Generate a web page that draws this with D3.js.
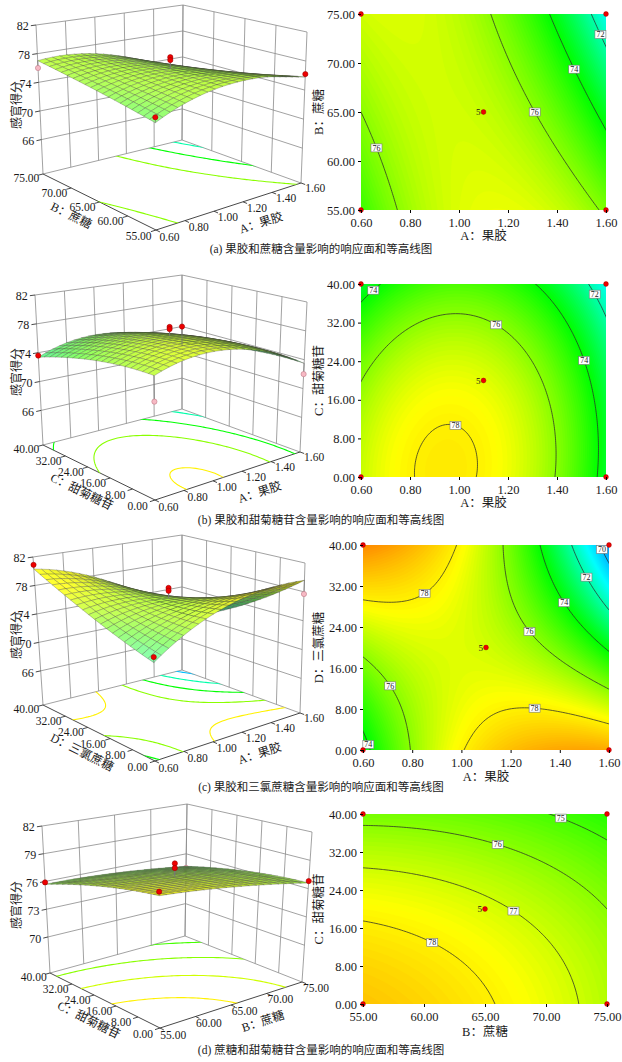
<!DOCTYPE html>
<html>
<head>
<meta charset="utf-8">
<script src="https://cdn.jsdelivr.net/npm/d3@7"></script>
<style>
body { margin: 0; background: #fff; }
text { font-family: "Liberation Serif", "Noto Sans CJK SC", serif; fill: #1a1a1a; }
</style>
</head>
<body>
<svg id="chart" width="622" height="1062"></svg>
<script>
// ---- factors ----
var factorName = ["A：果胶", "B：蔗糖", "C：甜菊糖苷", "D：三氯蔗糖"];
var factorLow = [0.6, 55, 0, 0];
var factorHigh = [1.6, 75, 40, 40];
var factorTicks = [
	[0.6, 0.8, 1.0, 1.2, 1.4, 1.6],
	[55, 60, 65, 70, 75],
	[0, 8, 16, 24, 32, 40],
	[0, 8, 16, 24, 32, 40]
];
var responseName = "感官得分";

// ---- panels ----
var panelFactorX = [0, 0, 0, 1];
var panelFactorY = [1, 2, 3, 2];
var panelCaption = [
	"(a) 果胶和蔗糖含量影响的响应面和等高线图",
	"(b) 果胶和甜菊糖苷含量影响的响应面和等高线图",
	"(c) 果胶和三氯蔗糖含量影响的响应面和等高线图",
	"(d) 蔗糖和甜菊糖苷含量影响的响应面和等高线图"
];

// fitted quadratic in coded units: b0, bx, by, bxy, bxx, byy
var coefA = [76.87, -1.21, -0.60, -1.71, -2.08, -0.09];
var coefB = [77.29, -1.41, -1.47, 0.28, -2.72, -0.85];
var coefC = [77.05, -1.25, -0.90, -4.25, -2.00, 0.65];
var coefD = [77.20, -0.90, -1.35, 0.30, -0.30, -0.45];
var panelCoef = [coefA, coefB, coefC, coefD];

var levelsA = [72, 74, 76];
var levelsB = [72, 74, 76, 78];
var levelsC = [70, 72, 74, 76, 78];
var levelsD = [75, 76, 77, 78];
var panelLevels = [levelsA, levelsB, levelsC, levelsD];

// contour labels: level, x factor value, y factor value
var labelsA = [[72, 1.547, 72.65], [74, 1.465, 69.4], [76, 1.347, 65.5], [76, 0.661, 61.3]];
var labelsB = [[74, 0.645, 38.9], [72, 1.58, 38.9], [76, 1.163, 32.7], [74, 1.53, 24.7], [78, 1.0, 12.0]];
var labelsC = [[70, 1.547, 38.4], [72, 1.498, 33.2], [74, 1.417, 28.7], [76, 1.295, 23.8],
	[78, 0.852, 30.6], [76, 0.730, 12.9], [74, 0.637, 4.7], [78, 1.295, 9.6]];
var labelsD = [[75, 70.0, 38.7], [76, 66.0, 33.9], [77, 68.0, 22.1], [78, 61.0, 14.3]];
var panelLabels = [labelsA, labelsB, labelsC, labelsD];

var zTicksABC = [66, 70, 74, 78, 82];
var zTicksD = [70, 73, 76, 79, 82];
var panelZTicks = [zTicksABC, zTicksABC, zTicksABC, zTicksD];
var panelZFloor = [61.2, 61.2, 61.2, 66.1];

// design runs: corners (lo/lo, lo/hi, hi/lo, hi/hi) and centre replicates
var cornerUV = [[0, 0], [0, 1], [1, 0], [1, 1]];
var cornerRunsA = [75.5, 76.0, 76.2, 70.5];
var cornerRunsB = [73.6, 73.6, 72.0, 74.0];
var cornerRunsC = [74.3, 80.9, 77.7, 69.0];
var cornerRunsD = [79.4, 75.9, 76.8, 74.3];
var panelCornerRuns = [cornerRunsA, cornerRunsB, cornerRunsC, cornerRunsD];
var centerRunsA = [78.5, 78.1];
var centerRunsB = [78.5, 78.2];
var centerRunsC = [78.5, 78.1];
var centerRunsD = [78.6, 78.1];
var panelCenterRuns = [centerRunsA, centerRunsB, centerRunsC, centerRunsD];
var centerCount = 5;

// colour ramps: flat contour map and shaded 3D surface
var colorDomain = [68, 71, 74, 77.7, 80.5, 83];
var colorRange = ["#0040ff", "#00ffff", "#00ff00", "#ffff00", "#ff8000", "#ff0000"];
var surfaceDomain = [69, 73, 75.5, 77.3, 78.8];
var surfaceRange = ["#40d8e8", "#60f0a8", "#80f060", "#b4f040", "#e4e82a"];

// ---- layout ----
// 3D box corners: p000, p100, p010, p110, p001, p101, p011, p111 (u, v, w)
var boxCorners = [
	[[156,230],[301,183],[43,174],[182,140],[155,66],[307,32],[36,25],[183,5]],
	[[155,500],[300,452],[43,445],[182,409],[154,335],[307,302],[35,295],[182,275]],
	[[155,761],[300,713],[43,705],[182,670],[153,596],[305,563],[33,557],[182,535]],
	[[160,1028],[302,982],[50,973],[185,936],[159,865],[312,832],[42,826],[187,804]]
];
var plotRect = [
	{x0: 361, x1: 606, y0: 14, y1: 210},
	{x0: 361, x1: 606, y0: 284, y1: 477},
	{x0: 363, x1: 609, y0: 545, y1: 750},
	{x0: 363, x1: 607, y0: 814, y1: 1004}
];
var zTitleY = [105, 372, 635, 905];
var xTitleY = [236, 503, 777, 1032];
var captionY = [249, 520, 787, 1050];

var svg = d3.select("#chart");
var defs = svg.append("defs");
var color = d3.scaleLinear().domain(colorDomain).range(colorRange).clamp(true);
var surfaceColor = d3.scaleLinear().domain(surfaceDomain).range(surfaceRange).clamp(true);
var fmt2 = d3.format(".2f");
var light = [-1, -1, 1.2];
var lightLen = Math.hypot(light[0], light[1], light[2]);

function lerp(a, b, t) { return [a[0] + (b[0] - a[0]) * t, a[1] + (b[1] - a[1]) * t]; }

function sampleGrid(model, n, pad) {
	var step = (1 + 2 * pad) / (n - 1), vals = new Array(n * n);
	for (var j = 0; j < n; j++)
		for (var i = 0; i < n; i++)
			vals[j * n + i] = model(-pad + i * step, -pad + j * step);
	return {
		n: n, vals: vals,
		toUV: function(pt) { return [-pad + (pt[0] - 0.5) * step, -pad + (pt[1] - 0.5) * step]; }
	};
}

function ringsPath(geo, toXY) {
	return geo.coordinates.map(function(poly) {
		return poly.map(function(ring) {
			return "M" + ring.map(function(pt) { return toXY(pt).join(","); }).join("L") + "Z";
		}).join("");
	}).join("");
}

function shade(base, f) {
	var c = d3.rgb(base);
	return d3.rgb(Math.min(255, c.r * f), Math.min(255, c.g * f), Math.min(255, c.b * f)).formatHex();
}

for (var k = 0; k < 4; k++) drawPanel(k);

function drawPanel(k) {
	var fx = panelFactorX[k], fy = panelFactorY[k], coef = panelCoef[k];
	var ux = d3.scaleLinear().domain([factorLow[fx], factorHigh[fx]]).range([0, 1]);
	var vy = d3.scaleLinear().domain([factorLow[fy], factorHigh[fy]]).range([0, 1]);
	var zt = panelZTicks[k];
	var wz = d3.scaleLinear().domain([panelZFloor[k], d3.max(zt)]).range([0, 1]);
	var model = function(u, v) {
		var x = 2 * u - 1, y = 2 * v - 1;
		return coef[0] + coef[1] * x + coef[2] * y + coef[3] * x * y + coef[4] * x * x + coef[5] * y * y;
	};
	var c = boxCorners[k];
	var P = function(u, v, w) {
		var bot = lerp(lerp(c[0], c[1], u), lerp(c[2], c[3], u), v);
		var top = lerp(lerp(c[4], c[5], u), lerp(c[6], c[7], u), v);
		return lerp(bot, top, w);
	};

	// ===== 3D response surface =====
	var g3 = svg.append("g").attr("class", "surface3d");

	// back walls
	var wallLines = [];
	zt.forEach(function(z) {
		var w = wz(z);
		wallLines.push([P(0, 1, w), P(1, 1, w)], [P(1, 1, w), P(1, 0, w)]);
	});
	factorTicks[fx].forEach(function(t) { var u = ux(t); wallLines.push([P(u, 1, 0), P(u, 1, 1)]); });
	factorTicks[fy].forEach(function(t) { var v = vy(t); wallLines.push([P(1, v, 0), P(1, v, 1)]); });
	wallLines.push([P(0, 1, 0), P(1, 1, 0)], [P(1, 1, 0), P(1, 0, 0)]);
	g3.append("g").selectAll("line").data(wallLines).join("line")
		.attr("x1", function(d) { return d[0][0]; }).attr("y1", function(d) { return d[0][1]; })
		.attr("x2", function(d) { return d[1][0]; }).attr("y2", function(d) { return d[1][1]; })
		.attr("stroke", "#8a8a8a").attr("stroke-width", 0.8);

	// front floor edges with ticks
	var axisLines = [[P(0, 0, 0), P(0, 1, 0)], [P(0, 0, 0), P(1, 0, 0)]];
	factorTicks[fy].forEach(function(t) { var v = vy(t); axisLines.push([P(0, v, 0), P(-0.035, v, 0)]); });
	factorTicks[fx].forEach(function(t) { var u = ux(t); axisLines.push([P(u, 0, 0), P(u, -0.035, 0)]); });
	zt.forEach(function(z) { var w = wz(z); axisLines.push([P(0, 1, w), P(-0.035, 1, w)]); });
	g3.append("g").selectAll("line").data(axisLines).join("line")
		.attr("x1", function(d) { return d[0][0]; }).attr("y1", function(d) { return d[0][1]; })
		.attr("x2", function(d) { return d[1][0]; }).attr("y2", function(d) { return d[1][1]; })
		.attr("stroke", "#333").attr("stroke-width", 0.9);

	// tick labels
	g3.append("g").selectAll("text").data(factorTicks[fy]).join("text")
		.attr("transform", function(t) { var p = P(-0.12, vy(t), 0); return "translate(" + p + ")"; })
		.attr("text-anchor", "middle").attr("dy", "0.35em").attr("font-size", 11.5)
		.text(fmt2);
	g3.append("g").selectAll("text").data(factorTicks[fx]).join("text")
		.attr("transform", function(t) { var p = P(ux(t), -0.12, 0); return "translate(" + p + ")"; })
		.attr("text-anchor", "middle").attr("dy", "0.35em").attr("font-size", 11.5)
		.text(fmt2);
	g3.append("g").selectAll("text").data(zt).join("text")
		.attr("transform", function(z) { var p = P(-0.05, 1, wz(z)); return "translate(" + p + ")"; })
		.attr("text-anchor", "end").attr("dy", "0.35em").attr("font-size", 12)
		.text(function(z) { return z; });

	// axis titles
	var eV = [P(0, 0, 0)[0] - P(0, 1, 0)[0], P(0, 0, 0)[1] - P(0, 1, 0)[1]];
	var eU = [P(1, 0, 0)[0] - P(0, 0, 0)[0], P(1, 0, 0)[1] - P(0, 0, 0)[1]];
	var aV = Math.atan2(eV[1], eV[0]) * 180 / Math.PI, aU = Math.atan2(eU[1], eU[0]) * 180 / Math.PI;
	var tV = P(-0.25, 0.61, 0), tU = P(0.34, -0.3, 0);
	g3.append("text").attr("transform", "translate(" + tV + ") rotate(" + aV + ")")
		.attr("dy", "0.35em").attr("font-size", 12).text(factorName[fy]);
	g3.append("text").attr("transform", "translate(" + tU + ") rotate(" + aU + ")")
		.attr("dy", "0.35em").attr("font-size", 12).text(factorName[fx]);
	g3.append("text").attr("transform", "translate(17," + zTitleY[k] + ") rotate(-90)")
		.attr("text-anchor", "middle").attr("dy", "0.35em").attr("font-size", 12)
		.attr("fill", "#444").text(responseName);

	// floor contours
	var clipId = "floorclip" + k;
	defs.append("clipPath").attr("id", clipId).append("path")
		.attr("d", "M" + [P(0, 0, 0), P(1, 0, 0), P(1, 1, 0), P(0, 1, 0)].join("L") + "Z");
	var gFloor = sampleGrid(model, 61, 0.05);
	var floorLines = d3.contours().size([gFloor.n, gFloor.n]).thresholds(panelLevels[k])(gFloor.vals);
	g3.append("g").attr("clip-path", "url(#" + clipId + ")")
		.selectAll("path").data(floorLines).join("path")
		.attr("d", function(d) { return ringsPath(d, function(pt) { var uv = gFloor.toUV(pt); return P(uv[0], uv[1], 0); }); })
		.attr("fill", "none").attr("stroke", function(d) { return color(d.value); }).attr("stroke-width", 1.1);

	// design runs
	var runs = [];
	cornerUV.forEach(function(uv, i) { runs.push({u: uv[0], v: uv[1], z: panelCornerRuns[k][i]}); });
	panelCenterRuns[k].forEach(function(z) { runs.push({u: 0.5, v: 0.5, z: z}); });
	runs.forEach(function(r) { r.fit = model(r.u, r.v); r.above = r.z >= r.fit; });
	function drawRuns(list) {
		var gr = g3.append("g");
		gr.selectAll("line").data(list).join("line")
			.attr("x1", function(r) { return P(r.u, r.v, wz(r.fit))[0]; })
			.attr("y1", function(r) { return P(r.u, r.v, wz(r.fit))[1]; })
			.attr("x2", function(r) { return P(r.u, r.v, wz(r.z))[0]; })
			.attr("y2", function(r) { return P(r.u, r.v, wz(r.z))[1]; })
			.attr("stroke", "#777").attr("stroke-width", 0.8);
		gr.selectAll("circle").data(list).join("circle")
			.attr("cx", function(r) { return P(r.u, r.v, wz(r.z))[0]; })
			.attr("cy", function(r) { return P(r.u, r.v, wz(r.z))[1]; })
			.attr("r", 2.6)
			.attr("fill", function(r) { return r.above ? "#ee0000" : "#f7b9c4"; })
			.attr("stroke", function(r) { return r.above ? "#a00000" : "#c07a88"; })
			.attr("stroke-width", 0.6);
	}
	drawRuns(runs.filter(function(r) { return !r.above; }));

	// surface mesh, painted back to front, lit by slope
	var N = 20, quads = [];
	for (var i = 0; i < N; i++) {
		for (var j = 0; j < N; j++) {
			var uv = [[i / N, j / N], [(i + 1) / N, j / N], [(i + 1) / N, (j + 1) / N], [i / N, (j + 1) / N]];
			var zs = uv.map(function(q) { return model(q[0], q[1]); });
			var ws = zs.map(wz);
			var du = ((ws[1] + ws[2]) - (ws[0] + ws[3])) / 2 * N;
			var dv = ((ws[2] + ws[3]) - (ws[0] + ws[1])) / 2 * N;
			var dot = (-du * light[0] - dv * light[1] + light[2]) / (Math.hypot(du, dv, 1) * lightLen);
			quads.push({
				pts: uv.map(function(q, m) { return P(q[0], q[1], ws[m]); }),
				z: d3.mean(zs), depth: i + j, lum: 1.05 + 0.75 * (dot - 0.647)
			});
		}
	}
	quads.sort(function(a, b) { return b.depth - a.depth; });
	g3.append("g").selectAll("path").data(quads).join("path")
		.attr("d", function(q) { return "M" + q.pts.join("L") + "Z"; })
		.attr("fill", function(q) { return shade(surfaceColor(q.z), q.lum); })
		.attr("stroke", "#3c3c32").attr("stroke-width", 0.4).attr("stroke-opacity", 0.7)
		.attr("stroke-linejoin", "round");

	drawRuns(runs.filter(function(r) { return r.above; }));

	// ===== contour plot =====
	var r = plotRect[k];
	var px = d3.scaleLinear().domain([factorLow[fx], factorHigh[fx]]).range([r.x0, r.x1]);
	var py = d3.scaleLinear().domain([factorLow[fy], factorHigh[fy]]).range([r.y1, r.y0]);
	var gc = svg.append("g").attr("class", "contour2d");
	var plotClip = "plotclip" + k;
	defs.append("clipPath").attr("id", plotClip).append("rect")
		.attr("x", r.x0).attr("y", r.y0).attr("width", r.x1 - r.x0).attr("height", r.y1 - r.y0);

	var gPlot = sampleGrid(model, 101, 0.02);
	var toPix = function(pt) { var q = gPlot.toUV(pt); return [px(ux.invert(q[0])), py(vy.invert(q[1]))]; };
	var lo = d3.min(gPlot.vals), hi = d3.max(gPlot.vals);
	var bandSteps = d3.range(Math.ceil(lo * 10), Math.floor(hi * 10) + 1).map(function(s) { return s / 10; });
	var bands = d3.contours().size([gPlot.n, gPlot.n]).thresholds(bandSteps)(gPlot.vals);
	var field = gc.append("g").attr("clip-path", "url(#" + plotClip + ")");
	field.append("rect").attr("x", r.x0).attr("y", r.y0)
		.attr("width", r.x1 - r.x0).attr("height", r.y1 - r.y0).attr("fill", color(lo));
	field.append("g").selectAll("path").data(bands.filter(function(b) { return b.coordinates.length; })).join("path")
		.attr("d", function(b) { return ringsPath(b, toPix); })
		.attr("fill", function(b) { return color(b.value + 0.05); });

	var lines = d3.contours().size([gPlot.n, gPlot.n]).thresholds(panelLevels[k])(gPlot.vals);
	field.append("g").selectAll("path").data(lines).join("path")
		.attr("d", function(b) { return ringsPath(b, toPix); })
		.attr("fill", "none").attr("stroke", "#2b2b2b").attr("stroke-width", 0.75);

	// contour labels snapped onto their line
	var labelSpots = panelLabels[k].map(function(L) {
		var geo = lines.find(function(d) { return d.value === L[0]; });
		var target = [px(L[1]), py(L[2])], best = target, bd = Infinity;
		geo.coordinates.forEach(function(poly) { poly.forEach(function(ring) { ring.forEach(function(pt) {
			var q = toPix(pt);
			if (q[0] < r.x0 + 5 || q[0] > r.x1 - 5 || q[1] < r.y0 + 4 || q[1] > r.y1 - 4) return;
			var d = (q[0] - target[0]) * (q[0] - target[0]) + (q[1] - target[1]) * (q[1] - target[1]);
			if (d < bd) { bd = d; best = q; }
		}); }); });
		return {level: L[0], p: best};
	});
	var lab = gc.append("g").selectAll("g").data(labelSpots).join("g")
		.attr("transform", function(d) { return "translate(" + d.p + ")"; });
	lab.append("rect").attr("x", -5.5).attr("y", -4).attr("width", 11).attr("height", 8)
		.attr("fill", "#fff").attr("stroke", "#777").attr("stroke-width", 0.6);
	lab.append("text").attr("text-anchor", "middle").attr("dy", "0.33em").attr("font-size", 8)
		.attr("fill", "#333").text(function(d) { return d.level; });

	// design points on the contour plot
	var pts2 = cornerUV.map(function(uv) { return [ux.invert(uv[0]), vy.invert(uv[1])]; });
	pts2.push([ux.invert(0.5), vy.invert(0.5)]);
	gc.append("g").selectAll("circle").data(pts2).join("circle")
		.attr("cx", function(d) { return px(d[0]); }).attr("cy", function(d) { return py(d[1]); })
		.attr("r", 2.4).attr("fill", "#ee0000").attr("stroke", "#a00000").attr("stroke-width", 0.5);
	gc.append("text").attr("x", px(ux.invert(0.5)) - 3).attr("y", py(vy.invert(0.5)))
		.attr("text-anchor", "end").attr("dy", "0.35em").attr("font-size", 9).text(centerCount);

	// axes
	gc.append("g").attr("transform", "translate(0," + r.y1 + ")")
		.call(d3.axisBottom(px).tickValues(factorTicks[fx]).tickFormat(fmt2).tickSize(3).tickPadding(5))
		.attr("font-family", null).attr("font-size", 12.5)
		.call(function(s) { s.select(".domain").remove(); });
	gc.append("g").attr("transform", "translate(" + r.x0 + ",0)")
		.call(d3.axisLeft(py).tickValues(factorTicks[fy]).tickFormat(fmt2).tickSize(3).tickPadding(3))
		.attr("font-family", null).attr("font-size", 12.5)
		.call(function(s) { s.select(".domain").remove(); });
	gc.append("text").attr("x", (r.x0 + r.x1) / 2).attr("y", xTitleY[k]).attr("dy", "0.35em")
		.attr("text-anchor", "middle").attr("font-size", 12.5).text(factorName[fx]);
	gc.append("text").attr("transform", "translate(319," + (r.y0 + r.y1) / 2 + ") rotate(-90)")
		.attr("text-anchor", "middle").attr("dy", "0.35em").attr("font-size", 12.5).text(factorName[fy]);

	// caption
	svg.append("text").attr("x", 321).attr("y", captionY[k]).attr("dy", "0.35em")
		.attr("text-anchor", "middle").attr("font-size", 11.5).text(panelCaption[k]);
}
</script>
</body>
</html>
